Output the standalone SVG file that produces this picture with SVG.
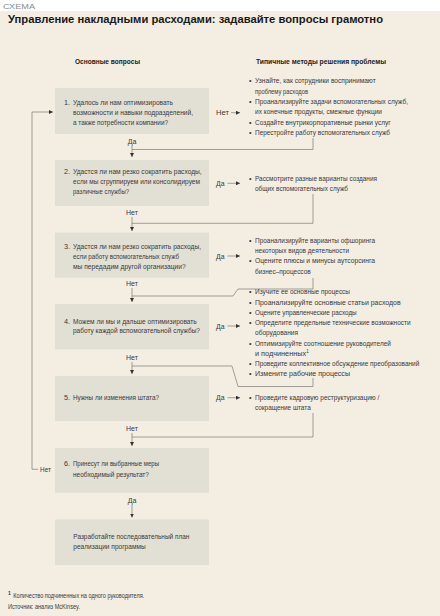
<svg xmlns="http://www.w3.org/2000/svg" width="440" height="616" viewBox="0 0 440 616">
<defs>
<marker id="ah" viewBox="0 0 6 6" refX="6" refY="3" markerWidth="4" markerHeight="4" markerUnits="userSpaceOnUse" orient="auto"><path d="M0,0 L6,3 L0,6 z" fill="#333"/></marker>
<style>
text{font-family:"Liberation Sans",Arial,sans-serif;fill:#3a3a3a}
.q{font-size:7.3px}
.m{font-size:7.3px}
.lb{font-size:7px}
.h{font-size:8px;font-weight:bold;fill:#222}
.box{fill:#e2dfd5}
.ln{fill:none;stroke:#6a6a6a;stroke-width:0.6}
.ar{fill:none;stroke:#6a6a6a;stroke-width:0.6;marker-end:url(#ah)}
</style>
</defs>
<rect x="0" y="0" width="440" height="616" fill="#ffffff"/>
<rect x="0" y="11" width="440" height="605" fill="#f3ede2"/>
<text x="3" y="8.5" style="font-size:8px;fill:#8a8a8a" textLength="32" lengthAdjust="spacingAndGlyphs">СХЕМА</text>
<text x="8" y="23" style="font-size:10.5px;font-weight:bold;fill:#1a1a1a" textLength="375" lengthAdjust="spacingAndGlyphs">Управление накладными расходами: задавайте вопросы грамотно</text>
<text class="h" x="75" y="63.5" textLength="65" lengthAdjust="spacingAndGlyphs">Основные вопросы</text>
<text class="h" x="256" y="63.5" textLength="130" lengthAdjust="spacingAndGlyphs">Типичные методы решения проблемы</text>

<g id="connectors">
<polyline class="ar" points="38,469.3 32,469.3 32,112 53,112"/>
<line class="ar" x1="231" y1="112.7" x2="240" y2="112.7"/>
<line class="ar" x1="132" y1="146" x2="132" y2="157"/>
<polyline class="ln" points="313,138 313,149.5 132,149.5"/>
<line class="ar" x1="227.5" y1="183.3" x2="240" y2="183.3"/>
<line class="ar" x1="132" y1="217" x2="132" y2="231"/>
<polyline class="ln" points="313,194 313,223.3 132,223.3"/>
<line class="ar" x1="227.5" y1="256" x2="240" y2="256"/>
<line class="ar" x1="132" y1="288" x2="132" y2="302"/>
<polyline class="ln" points="313,278 313,289 238,289 233,296 132,296"/>
<line class="ar" x1="227.5" y1="326" x2="240" y2="326"/>
<line class="ar" x1="132" y1="362" x2="132" y2="374"/>
<polyline class="ln" points="313,378 313,386.5 238,386.5 232,366 132,366"/>
<line class="ar" x1="227.5" y1="397.7" x2="240" y2="397.7"/>
<line class="ar" x1="132" y1="433" x2="132" y2="446"/>
<polyline class="ln" points="313,413 313,437 132,437"/>
<line class="ar" x1="132" y1="505" x2="132" y2="517.5"/>
</g>

<g id="labels">
<text class="lb" x="216" y="115.2" textLength="13" lengthAdjust="spacingAndGlyphs">Нет</text>
<text class="lb" x="132" y="143.5" text-anchor="middle">Да</text>
<text class="lb" x="216" y="185.8" textLength="8.5" lengthAdjust="spacingAndGlyphs">Да</text>
<text class="lb" x="132" y="214.8" text-anchor="middle">Нет</text>
<text class="lb" x="216" y="258.5" textLength="8.5" lengthAdjust="spacingAndGlyphs">Да</text>
<text class="lb" x="132" y="285.8" text-anchor="middle">Нет</text>
<text class="lb" x="216" y="328.5" textLength="8.5" lengthAdjust="spacingAndGlyphs">Да</text>
<text class="lb" x="132" y="359.8" text-anchor="middle">Нет</text>
<text class="lb" x="216" y="400.2" textLength="8.5" lengthAdjust="spacingAndGlyphs">Да</text>
<text class="lb" x="132" y="430.8" text-anchor="middle">Нет</text>
<text class="lb" x="40" y="471.8" textLength="11" lengthAdjust="spacingAndGlyphs">Нет</text>
<text class="lb" x="132" y="502.5" text-anchor="middle">Да</text>
</g>

<g id="q1">
<rect class="box" x="55" y="88" width="154" height="46"/>
<text class="q" x="64" y="105">1.</text>
<text class="q" x="73" y="105" textLength="100" lengthAdjust="spacingAndGlyphs">Удалось ли нам оптимизировать</text>
<text class="q" x="73" y="115" textLength="120" lengthAdjust="spacingAndGlyphs">возможности и навыки подразделений,</text>
<text class="q" x="73" y="125" textLength="95" lengthAdjust="spacingAndGlyphs">а также потребности компании?</text>
</g>
<g id="m1">
<text class="m" x="249" y="83.4">•</text><text class="m" x="255" y="83.4" textLength="120.7" lengthAdjust="spacingAndGlyphs">Узнайте, как сотрудники воспринимают</text>
<text class="m" x="255" y="93.7" textLength="53" lengthAdjust="spacingAndGlyphs">проблему расходов</text>
<text class="m" x="249" y="104">•</text><text class="m" x="255" y="104" textLength="153" lengthAdjust="spacingAndGlyphs">Проанализируйте задачи вспомогательных служб,</text>
<text class="m" x="255" y="114.3" textLength="127" lengthAdjust="spacingAndGlyphs">их конечные продукты, смежные функции</text>
<text class="m" x="249" y="124.6">•</text><text class="m" x="255" y="124.6" textLength="135.7" lengthAdjust="spacingAndGlyphs">Создайте внутрикорпоративные рынки услуг</text>
<text class="m" x="249" y="135">•</text><text class="m" x="255" y="135" textLength="135" lengthAdjust="spacingAndGlyphs">Перестройте работу вспомогательных служб</text>
</g>

<g id="q2">
<rect class="box" x="55" y="160" width="154" height="46"/>
<text class="q" x="64" y="174.4">2.</text>
<text class="q" x="73" y="174.4" textLength="128.7" lengthAdjust="spacingAndGlyphs">Удастся ли нам резко сократить расходы,</text>
<text class="q" x="73" y="184.4" textLength="127" lengthAdjust="spacingAndGlyphs">если мы сгруппируем или консолидируем</text>
<text class="q" x="73" y="194.4" textLength="56" lengthAdjust="spacingAndGlyphs">различные службы?</text>
</g>
<g id="m2">
<text class="m" x="249" y="181">•</text><text class="m" x="255" y="181" textLength="122" lengthAdjust="spacingAndGlyphs">Рассмотрите разные варианты создания</text>
<text class="m" x="255" y="191" textLength="93" lengthAdjust="spacingAndGlyphs">общих вспомогательных служб</text>
</g>

<g id="q3">
<rect class="box" x="55" y="232.7" width="154" height="45"/>
<text class="q" x="64" y="249.4">3.</text>
<text class="q" x="73" y="249.4" textLength="128" lengthAdjust="spacingAndGlyphs">Удастся ли нам резко сократить расходы,</text>
<text class="q" x="73" y="259.4" textLength="106" lengthAdjust="spacingAndGlyphs">если работу вспомогательных служб</text>
<text class="q" x="73" y="269.4" textLength="112.7" lengthAdjust="spacingAndGlyphs">мы передадим другой организации?</text>
</g>
<g id="m3">
<text class="m" x="249" y="242.7">•</text><text class="m" x="255" y="242.7" textLength="120" lengthAdjust="spacingAndGlyphs">Проанализируйте варианты офшоринга</text>
<text class="m" x="255" y="253" textLength="94" lengthAdjust="spacingAndGlyphs">некоторых видов деятельности</text>
<text class="m" x="249" y="263.4">•</text><text class="m" x="255" y="263.4" textLength="120" lengthAdjust="spacingAndGlyphs">Оцените плюсы и минусы аутсорсинга</text>
<text class="m" x="255" y="274" textLength="55.7" lengthAdjust="spacingAndGlyphs">бизнес–процессов</text>
</g>

<g id="q4">
<rect class="box" x="55" y="304" width="154" height="45.3"/>
<text class="q" x="64" y="323.7">4.</text>
<text class="q" x="73" y="323.7" textLength="123.7" lengthAdjust="spacingAndGlyphs">Можем ли мы и дальше оптимизировать</text>
<text class="q" x="73" y="333.4" textLength="127" lengthAdjust="spacingAndGlyphs">работу каждой вспомогательной службы?</text>
</g>
<g id="m4">
<text class="m" x="249" y="294.4">•</text><text class="m" x="255" y="294.4" textLength="95" lengthAdjust="spacingAndGlyphs">Изучите ее основные процессы</text>
<text class="m" x="249" y="304.6">•</text><text class="m" x="255" y="304.6" textLength="145.7" lengthAdjust="spacingAndGlyphs">Проанализируйте основные статьи расходов</text>
<text class="m" x="249" y="314.9">•</text><text class="m" x="255" y="314.9" textLength="101.7" lengthAdjust="spacingAndGlyphs">Оцените управленческие расходы</text>
<text class="m" x="249" y="325.1">•</text><text class="m" x="255" y="325.1" textLength="155.7" lengthAdjust="spacingAndGlyphs">Определите предельные технические возможности</text>
<text class="m" x="255" y="335.4" textLength="43" lengthAdjust="spacingAndGlyphs">оборудования</text>
<text class="m" x="249" y="345.6">•</text><text class="m" x="255" y="345.6" textLength="136" lengthAdjust="spacingAndGlyphs">Оптимизируйте соотношение руководителей</text>
<text class="m" x="255" y="355.9">и подчиненных<tspan style="font-size:4.6px" dy="-3.2">1</tspan></text>
<text class="m" x="249" y="366.1">•</text><text class="m" x="255" y="366.1" textLength="164.3" lengthAdjust="spacingAndGlyphs">Проведите коллективное обсуждение преобразований</text>
<text class="m" x="249" y="376.4">•</text><text class="m" x="255" y="376.4" textLength="95" lengthAdjust="spacingAndGlyphs">Измените рабочие процессы</text>
</g>

<g id="q5">
<rect class="box" x="55" y="376" width="154" height="45"/>
<text class="q" x="64" y="400.4">5.</text>
<text class="q" x="73" y="400.4" textLength="86" lengthAdjust="spacingAndGlyphs">Нужны ли изменения штата?</text>
</g>
<g id="m5">
<text class="m" x="249" y="400">•</text><text class="m" x="255" y="400" textLength="124.3" lengthAdjust="spacingAndGlyphs">Проведите кадровую реструктуризацию /</text>
<text class="m" x="255" y="410.4" textLength="55.7" lengthAdjust="spacingAndGlyphs">сокращение штата</text>
</g>

<g id="q6">
<rect class="box" x="55" y="448" width="154" height="44.7"/>
<text class="q" x="64" y="466">6.</text>
<text class="q" x="73" y="466" textLength="86" lengthAdjust="spacingAndGlyphs">Принесут ли выбранные меры</text>
<text class="q" x="73" y="476.5" textLength="76" lengthAdjust="spacingAndGlyphs">необходимый результат?</text>
</g>

<g id="q7">
<rect class="box" x="55" y="519.5" width="154" height="45.5"/>
<text class="q" x="73.3" y="538.7" textLength="116" lengthAdjust="spacingAndGlyphs">Разработайте последовательный план</text>
<text class="q" x="73.3" y="549.2" textLength="72.4" lengthAdjust="spacingAndGlyphs">реализации программы</text>
</g>

<g id="footer">
<text x="8" y="594.5" style="font-size:5px;font-weight:bold">1</text>
<text x="13.3" y="598" style="font-size:7px" textLength="131" lengthAdjust="spacingAndGlyphs">Количество подчиненных на одного руководителя.</text>
<text x="8" y="609" style="font-size:7px" textLength="72" lengthAdjust="spacingAndGlyphs">Источник: анализ McKinsey.</text>
</g>
</svg>
